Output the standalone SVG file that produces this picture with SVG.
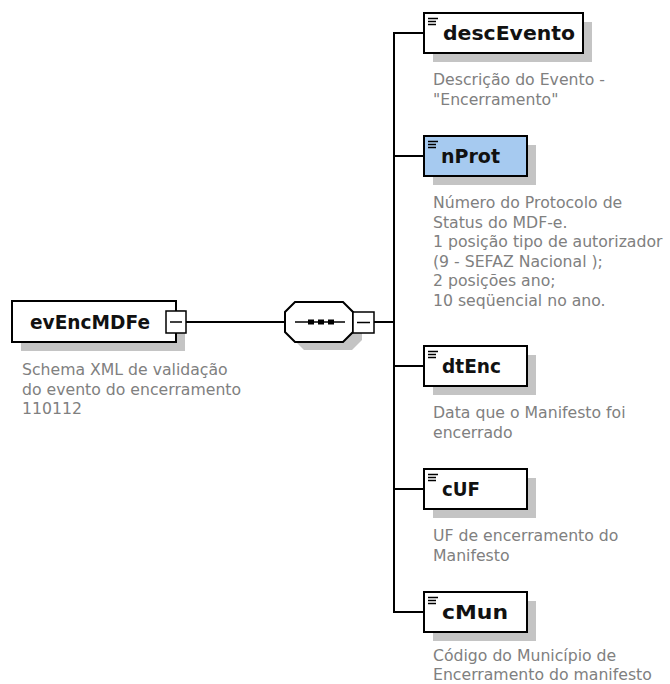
<svg xmlns="http://www.w3.org/2000/svg" width="670" height="684" viewBox="0 0 670 684">
<style>
.box{fill:#fff;stroke:#000;stroke-width:2}
.sel{fill:#A6CAF0;stroke:#000;stroke-width:2}
.shadow{fill:#c4c4c4}
.name{font-family:"DejaVu Sans",Verdana,sans-serif;font-weight:bold;font-size:19px;fill:#111}
.desc{font-family:"DejaVu Sans",Verdana,sans-serif;font-size:15.7px;fill:#808080}
.conn{fill:none;stroke:#000;stroke-width:2}
.icon{stroke:#000;stroke-width:1.5}
.minus{fill:#fff;stroke:#000;stroke-width:1.5}
</style>
<rect width="670" height="684" fill="#fff"/>
<g id="connectors">
<line class="conn" x1="186" y1="322" x2="285" y2="322"/>
<line class="conn" x1="374" y1="322" x2="394" y2="322"/>
<line class="conn" x1="394" y1="32" x2="394" y2="613"/>
<line class="conn" x1="393" y1="33" x2="424" y2="33"/>
<line class="conn" x1="393" y1="156" x2="424" y2="156"/>
<line class="conn" x1="393" y1="366" x2="424" y2="366"/>
<line class="conn" x1="393" y1="489" x2="424" y2="489"/>
<line class="conn" x1="393" y1="612" x2="424" y2="612"/>
</g>
<g id="evEncMDFe">
<rect class="shadow" x="21" y="310" width="164" height="41"/>
<rect class="box" x="12" y="301" width="164" height="41"/>
<text class="name" x="30" y="329" textLength="120" lengthAdjust="spacingAndGlyphs">evEncMDFe</text>
<rect class="minus" x="166" y="311" width="20" height="22"/>
<line class="icon" x1="170" y1="322" x2="182" y2="322"/>
<text class="desc" x="22" y="375">Schema XML de validação</text>
<text class="desc" x="22" y="394.5">do evento do encerramento</text>
<text class="desc" x="22" y="414">110112</text>
</g>
<g id="sequence">
<polygon class="shadow" points="304,310 352,310 362,320 362,340 352,350 304,350 294,340 294,320"/>
<polygon class="box" points="295,302 343,302 353,312 353,332 343,342 295,342 285,332 285,312"/>
<line x1="295" y1="322" x2="345" y2="322" stroke="#000" stroke-width="1.5"/>
<rect x="308" y="319.5" width="6" height="5" fill="#000"/>
<rect x="318" y="319.5" width="6" height="5" fill="#000"/>
<rect x="328" y="319.5" width="6" height="5" fill="#000"/>
<rect class="minus" x="353" y="312" width="21" height="21"/>
<line class="icon" x1="357" y1="322.5" x2="370" y2="322.5"/>
</g>
<g id="descEvento">
<rect class="shadow" x="433" y="22" width="159" height="40"/>
<rect class="box" x="424" y="13" width="159" height="40"/>
<line class="icon" x1="428" y1="18.5" x2="438" y2="18.5"/>
<line class="icon" x1="428" y1="21.5" x2="436" y2="21.5"/>
<line class="icon" x1="428" y1="24.5" x2="436" y2="24.5"/>
<text class="name" x="443" y="40" textLength="132" lengthAdjust="spacingAndGlyphs">descEvento</text>
<text class="desc" x="433" y="85">Descrição do Evento -</text>
<text class="desc" x="433" y="104.5">"Encerramento"</text>
</g>
<g id="nProt">
<rect class="shadow" x="433" y="145" width="103" height="40"/>
<rect class="sel" x="424" y="136" width="103" height="40"/>
<line class="icon" x1="428" y1="141.5" x2="438" y2="141.5"/>
<line class="icon" x1="428" y1="144.5" x2="436" y2="144.5"/>
<line class="icon" x1="428" y1="147.5" x2="436" y2="147.5"/>
<text class="name" x="441" y="163" textLength="59" lengthAdjust="spacingAndGlyphs">nProt</text>
<text class="desc" x="433" y="208">Número do Protocolo de</text>
<text class="desc" x="433" y="227.5">Status do MDF-e.</text>
<text class="desc" x="433" y="247">1 posição tipo de autorizador</text>
<text class="desc" x="433" y="266.5">(9 - SEFAZ Nacional );</text>
<text class="desc" x="433" y="286">2 posições ano;</text>
<text class="desc" x="433" y="305.5">10 seqüencial no ano.</text>
</g>
<g id="dtEnc">
<rect class="shadow" x="433" y="355" width="103" height="40"/>
<rect class="box" x="424" y="346" width="103" height="40"/>
<line class="icon" x1="428" y1="351.5" x2="438" y2="351.5"/>
<line class="icon" x1="428" y1="354.5" x2="436" y2="354.5"/>
<line class="icon" x1="428" y1="357.5" x2="436" y2="357.5"/>
<text class="name" x="442" y="373" textLength="59" lengthAdjust="spacingAndGlyphs">dtEnc</text>
<text class="desc" x="433" y="418">Data que o Manifesto foi</text>
<text class="desc" x="433" y="437.5">encerrado</text>
</g>
<g id="cUF">
<rect class="shadow" x="433" y="478" width="103" height="40"/>
<rect class="box" x="424" y="469" width="103" height="40"/>
<line class="icon" x1="428" y1="474.5" x2="438" y2="474.5"/>
<line class="icon" x1="428" y1="477.5" x2="436" y2="477.5"/>
<line class="icon" x1="428" y1="480.5" x2="436" y2="480.5"/>
<text class="name" x="442" y="496" textLength="38" lengthAdjust="spacingAndGlyphs">cUF</text>
<text class="desc" x="433" y="541">UF de encerramento do</text>
<text class="desc" x="433" y="560.5">Manifesto</text>
</g>
<g id="cMun">
<rect class="shadow" x="433" y="601" width="103" height="40"/>
<rect class="box" x="424" y="592" width="103" height="40"/>
<line class="icon" x1="428" y1="597.5" x2="438" y2="597.5"/>
<line class="icon" x1="428" y1="600.5" x2="436" y2="600.5"/>
<line class="icon" x1="428" y1="603.5" x2="436" y2="603.5"/>
<text class="name" x="442" y="619" textLength="66" lengthAdjust="spacingAndGlyphs">cMun</text>
<text class="desc" x="433" y="661">Código do Município de</text>
<text class="desc" x="433" y="680">Encerramento do manifesto</text>
</g>
</svg>
